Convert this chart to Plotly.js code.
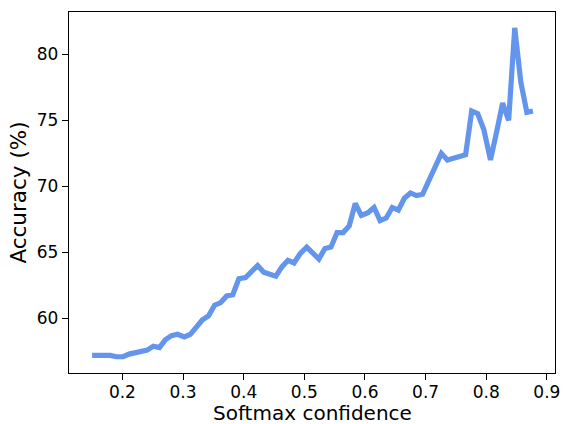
<!DOCTYPE html>
<html>
<head>
<meta charset="utf-8">
<script src="https://cdn.plot.ly/plotly-3.0.1.min.js"></script>
<style>
html,body{margin:0;padding:0;background:#fff;}
#chart{width:568px;height:424px;}
</style>
</head>
<body>
<div id="chart"></div>
<script>
const confidence = [
  0.150,0.160,0.170,0.180,0.190,0.201,0.211,0.221,0.231,0.241,
  0.251,0.261,0.271,0.281,0.291,0.302,0.312,0.322,0.332,0.342,
  0.352,0.362,0.372,0.382,0.392,0.403,0.413,0.423,0.433,0.443,
  0.453,0.463,0.473,0.483,0.493,0.504,0.514,0.524,0.534,0.544,
  0.554,0.564,0.574,0.584,0.594,0.605,0.615,0.625,0.635,0.645,
  0.655,0.665,0.675,0.685,0.695,0.706,0.716,0.726,0.736,0.746,
  0.756,0.766,0.776,0.786,0.796,0.807,0.817,0.827,0.837,0.847,
  0.857,0.867,0.877
];
const accuracy = [
  57.2,57.2,57.2,57.2,57.1,57.1,57.3,57.4,57.5,57.6,
  57.9,57.8,58.4,58.7,58.8,58.6,58.8,59.3,59.9,60.2,
  61.0,61.2,61.7,61.8,63.0,63.1,63.6,64.0,63.5,63.4,
  63.2,63.9,64.4,64.2,64.9,65.4,64.9,64.5,65.3,65.4,
  66.5,66.5,67.0,68.7,67.8,68.0,68.4,67.4,67.6,68.4,
  68.2,69.1,69.5,69.3,69.4,70.5,71.7,72.5,72.0,72.1,
  72.3,72.4,75.7,75.5,74.3,72.0,74.1,76.3,75.0,82.0,
  77.9,75.6,75.7
];
const xTicks = [0.2,0.3,0.4,0.5,0.6,0.7,0.8,0.9];
const xTickLabels = ["0.2","0.3","0.4","0.5","0.6","0.7","0.8","0.9"];
const yTicks = [60,65,70,75,80];
const yTickLabels = ["60","65","70","75","80"];
const xTitle = "Softmax confidence";
const yTitle = "Accuracy (%)";

const font = "DejaVu Sans, sans-serif";
const trace = {
  x: confidence, y: accuracy, type: "scatter", mode: "lines",
  line: {color: "#6495ED", width: 5.2},
  hoverinfo: "skip"
};
const layout = {
  width: 568, height: 424,
  margin: {l: 69, r: 13, t: 12, b: 51, pad: 0},
  paper_bgcolor: "#ffffff", plot_bgcolor: "#ffffff",
  showlegend: false,
  font: {family: font, color: "#000000", size: 17},
  xaxis: {
    range: [0.1119, 0.9134],
    tickvals: xTicks, ticktext: xTickLabels,
    ticks: "outside", ticklen: 6, tickwidth: 1, tickcolor: "#000",
    ticklabelstandoff: -3,
    showline: true, linecolor: "#000", linewidth: 1.2, mirror: true,
    showgrid: false, zeroline: false,
    tickfont: {family: font, size: 17, color: "#000"},
    automargin: false
  },
  yaxis: {
    range: [55.87, 83.2],
    tickvals: yTicks, ticktext: yTickLabels,
    ticks: "outside", ticklen: 6, tickwidth: 1, tickcolor: "#000",
    showline: true, linecolor: "#000", linewidth: 1.2, mirror: true,
    showgrid: false, zeroline: false,
    tickfont: {family: font, size: 17, color: "#000"},
    title: {text: yTitle, font: {family: font, size: 21.5, color: "#000"}, standoff: 4},
    automargin: false
  },
  annotations: [{
    text: xTitle, xref: "paper", yref: "paper", x: 0.5, y: 0,
    xanchor: "center", yanchor: "top", yshift: -27, borderpad: 0, showarrow: false,
    font: {family: font, size: 20, color: "#000"}
  }]
};
Plotly.newPlot("chart", [trace], layout, {staticPlot: true, displayModeBar: false});
</script>
</body>
</html>
